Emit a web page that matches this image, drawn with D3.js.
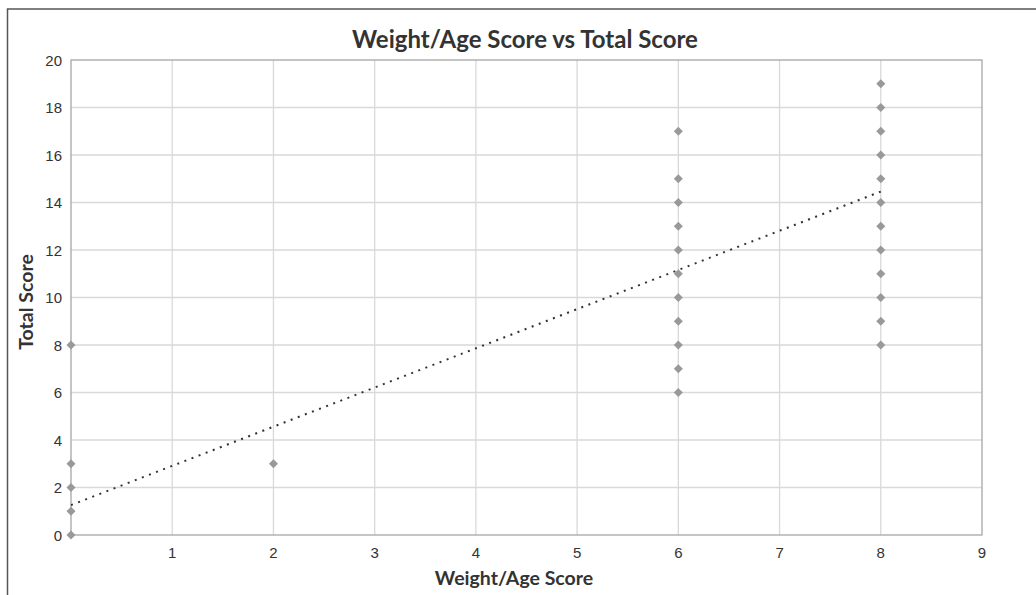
<!DOCTYPE html>
<html><head><meta charset="utf-8">
<script src="https://cdn.jsdelivr.net/npm/d3@7"></script>
<style>body{margin:0;background:#fff}svg{display:block}</style>
</head><body>
<svg id="c" width="1036" height="595"></svg>
<script>
const title = "Weight/Age Score vs Total Score";
const xTitle = "Weight/Age Score";
const yTitle = "Total Score";
const xValues = [0,0,0,0,0, 2, 6,6,6,6,6,6,6,6,6,6,6, 8,8,8,8,8,8,8,8,8,8,8,8];
const yValues = [0,1,2,3,8, 3, 6,7,8,9,10,11,12,13,14,15,17, 8,9,10,11,12,13,14,15,16,17,18,19];
const trendX = [0, 8];
const trendY = [1.26, 14.46];
const xTicks = [1,2,3,4,5,6,7,8,9];
const yTicks = [0,2,4,6,8,10,12,14,16,18,20];

const svg = d3.select("#c");
const L = 71, R = 982, T = 60, B = 535;
const x = d3.scaleLinear().domain([0, 9]).range([L, R]);
const y = d3.scaleLinear().domain([0, 20]).range([B, T]);
const tickFont = "Liberation Sans, Arial, sans-serif";

// outer frame (top and left)
svg.append("path").attr("d", "M7.5,595 V9 H1036").attr("fill","none").attr("stroke","#555").attr("stroke-width",1.5);

// gridlines
svg.append("g").selectAll("line").data(xTicks.filter(d => d > 0 && d < 9)).join("line")
  .attr("x1", d => x(d)).attr("x2", d => x(d)).attr("y1", T).attr("y2", B)
  .attr("stroke","#d9d9d9").attr("stroke-width",1.3);
svg.append("g").selectAll("line").data(yTicks.filter(d => d > 0 && d < 20)).join("line")
  .attr("x1", L).attr("x2", R).attr("y1", d => y(d)).attr("y2", d => y(d))
  .attr("stroke","#d9d9d9").attr("stroke-width",1.3);

// plot border
svg.append("rect").attr("x", L).attr("y", T).attr("width", R - L).attr("height", B - T)
  .attr("fill","none").attr("stroke","#a6a6a6").attr("stroke-width",1.3);

// tick labels
svg.append("g").selectAll("text").data(xTicks).join("text")
  .attr("x", d => x(d)).attr("y", B + 23).attr("text-anchor","middle")
  .attr("font-family", tickFont).attr("font-size", 15).attr("fill","#333")
  .text(d => d3.format("d")(d));
svg.append("g").selectAll("text").data(yTicks).join("text")
  .attr("x", L - 9).attr("y", d => y(d) + 5.5).attr("text-anchor","end")
  .attr("font-family", tickFont).attr("font-size", 15).attr("fill","#333")
  .text(d => d3.format("d")(d));

// trendline
svg.append("path")
  .datum(trendX.map((d, i) => [d, trendY[i]]))
  .attr("d", d3.line().x(d => x(d[0])).y(d => y(d[1])))
  .attr("fill","none").attr("stroke","#333").attr("stroke-width",2)
  .attr("stroke-dasharray","2,5.6");

// points
svg.append("g").selectAll("path").data(xValues.map((d, i) => [d, yValues[i]])).join("path")
  .attr("d", d3.symbol().type(d3.symbolDiamond2).size(52))
  .attr("transform", d => `translate(${x(d[0])},${y(d[1])})`)
  .attr("fill","#999");

// titles
svg.append("text").attr("x", 525).attr("y", 48).attr("text-anchor","middle")
  .attr("font-family","Lato, 'Open Sans', sans-serif").attr("font-weight","bold").attr("font-size",24)
  .attr("fill","#333").text(title);
svg.append("text").attr("x", 514).attr("y", 585).attr("text-anchor","middle")
  .attr("font-family","Lato, 'Open Sans', sans-serif").attr("font-weight","bold").attr("font-size",19.5)
  .attr("fill","#333").text(xTitle);
svg.append("text").attr("transform","translate(33,302) rotate(-90)").attr("text-anchor","middle")
  .attr("font-family","Lato, 'Open Sans', sans-serif").attr("font-weight","bold").attr("font-size",19.5)
  .attr("fill","#333").text(yTitle);
</script>
</body></html>
